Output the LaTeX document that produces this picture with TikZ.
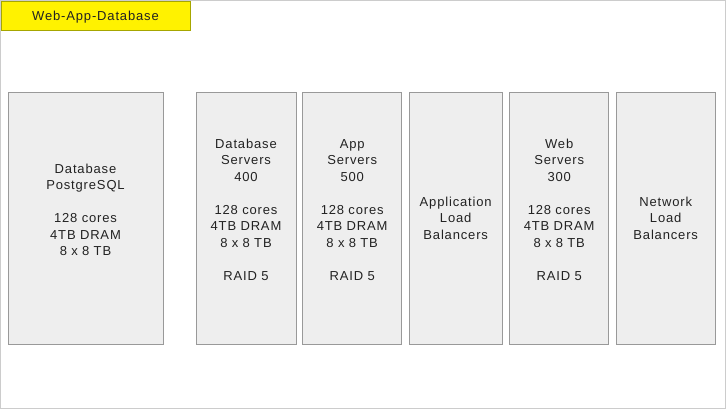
\documentclass[tikz,border=0pt]{standalone}
\usepackage{fontspec}
\setmainfont{Liberation Sans}
\newfontfamily\lsfont[LetterSpace=6.5]{Liberation Sans}
\newcommand{\ls}{\rule[-3.7pt]{0pt}{16.5pt}}
\definecolor{boxfill}{HTML}{EEEEEE}
\definecolor{boxline}{HTML}{999999}
\definecolor{framec}{HTML}{CCCCCC}
\definecolor{txt}{HTML}{222222}
\definecolor{titleline}{HTML}{A6A600}
\tikzset{
  srv/.style={draw=boxline, fill=boxfill, line width=1pt, inner sep=0pt,
    minimum height=252pt, align=center, text=txt,
    font=\lsfont\fontsize{13pt}{16.5pt}\selectfont},
  titlebox/.style={draw=titleline, fill=yellow, line width=1pt, inner sep=0pt,
    minimum width=189pt, minimum height=29pt, text=txt,
    font=\lsfont\fontsize{13pt}{16.5pt}\selectfont}
}
\begin{document}
\begin{tikzpicture}[x=1pt,y=-1pt]
\useasboundingbox (0,0) rectangle (727,410);
\draw[framec, line width=1pt] (0.5,0.5) rectangle (725.5,408.5);
\node[titlebox] (title) at (95.5,15.5) {\ls Web-App-Database};
\node[srv, minimum width=155pt, text width=150pt] (db) at (85.5,218)
  {\ls Database\\PostgreSQL\\[16.5pt]128 cores\\4TB DRAM\\8 x 8 TB\\ \ls};
\node[srv, minimum width=100pt, text width=96pt] (dbs) at (246,218)
  {\ls Database\\Servers\\400\\[16.5pt]128 cores\\4TB DRAM\\8 x 8 TB\\[16.5pt]RAID 5\\ \ls};
\node[srv, minimum width=99pt, text width=96pt] (app) at (352.2,218)
  {\ls App\\Servers\\500\\[16.5pt]128 cores\\4TB DRAM\\8 x 8 TB\\[16.5pt]RAID 5\\ \ls};
\node[srv, minimum width=93pt, text width=90pt] (alb) at (455.7,218)
  {\ls Application\\Load\\Balancers\ls};
\node[srv, minimum width=99pt, text width=96pt] (web) at (559.2,218)
  {\ls Web\\Servers\\300\\[16.5pt]128 cores\\4TB DRAM\\8 x 8 TB\\[16.5pt]RAID 5\\ \ls};
\node[srv, minimum width=99pt, text width=96pt] (nlb) at (665.7,218)
  {\ls Network\\Load\\Balancers\ls};
\end{tikzpicture}
\end{document}
